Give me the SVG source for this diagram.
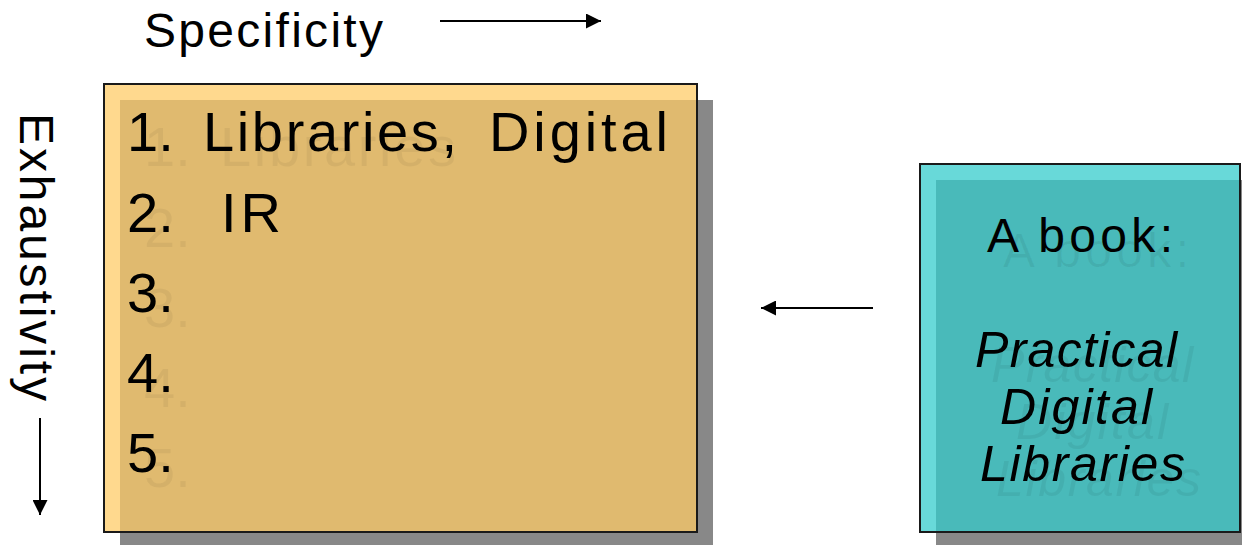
<svg xmlns="http://www.w3.org/2000/svg" width="1242" height="545" viewBox="0 0 1242 545">
<style>
  text { font-family: "Liberation Sans", Arial, sans-serif; fill: #000; }
  .list { font-size: 56px; }
  .ghost { fill: #000; fill-opacity: 0.05; }
  .ghost2 { fill: #000; fill-opacity: 0.06; }
  .book { font-size: 48px; }
  .ital { font-size: 50px; font-style: italic; }
  .axis { font-size: 48px; }
  .shadow { fill: #888888; }
  .frame { stroke: #1a1a1a; stroke-width: 2; }
  .conn { stroke: #000; stroke-width: 2; fill: none; }
</style>
<defs>
  <marker id="ah" viewBox="0 0 10 10" refX="10" refY="5" markerWidth="16" markerHeight="15" markerUnits="userSpaceOnUse" orient="auto">
    <path d="M0,0 L10,5 L0,10 z" fill="#000"/>
  </marker>
</defs>
<rect width="1242" height="545" fill="#fff"/>

<g id="specificity-label">
  <text class="axis" x="144" y="47" textLength="239" lengthAdjust="spacing">Specificity</text>
</g>
<g id="exhaustivity-label">
  <text class="axis" transform="translate(20,113) rotate(90)" x="0" y="0" textLength="288" lengthAdjust="spacing">Exhaustivity</text>
</g>

<g id="subject-list">
  <rect class="shadow" x="120" y="100" width="593" height="448"/>
  <rect class="frame" x="104" y="84" width="593" height="448" fill="#FFCC66" fill-opacity="0.74"/>
  <g class="list ghost">
    <text x="144" y="166">1.</text>
    <text x="220" y="166" textLength="236" lengthAdjust="spacing">Libraries</text>
    <text x="144" y="247">2.</text>
    <text x="144" y="327">3.</text>
    <text x="144" y="407">4.</text>
    <text x="144" y="487">5.</text>
  </g>
  <g class="list">
    <text x="127" y="151">1.</text>
    <text x="203" y="151" textLength="254" lengthAdjust="spacing">Libraries,</text>
    <text x="489" y="151" textLength="179" lengthAdjust="spacing">Digital</text>
    <text x="127" y="232">2.</text>
    <text x="221" y="232" textLength="60" lengthAdjust="spacing">IR</text>
    <text x="127" y="312">3.</text>
    <text x="127" y="392">4.</text>
    <text x="127" y="472">5.</text>
  </g>
</g>

<g id="book">
  <rect class="shadow" x="936" y="180" width="320" height="368"/>
  <rect class="frame" x="920" y="164" width="320" height="368" fill="#33CCCC" fill-opacity="0.74"/>
  <g class="ghost2">
    <text class="book" x="1003" y="267" textLength="186" lengthAdjust="spacing">A book:</text>
    <text class="ital" x="991" y="382" textLength="202" lengthAdjust="spacing">Practical</text>
    <text class="ital" x="1016" y="439" textLength="152" lengthAdjust="spacing">Digital</text>
    <text class="ital" x="996" y="496" textLength="205" lengthAdjust="spacing">Libraries</text>
  </g>
  <text class="book" x="987" y="252" textLength="186" lengthAdjust="spacing">A book:</text>
  <text class="ital" x="975" y="367" textLength="202" lengthAdjust="spacing">Practical</text>
  <text class="ital" x="1000" y="424" textLength="152" lengthAdjust="spacing">Digital</text>
  <text class="ital" x="980" y="481" textLength="205" lengthAdjust="spacing">Libraries</text>
</g>

<g id="connectors">
  <line class="conn" x1="440" y1="21" x2="601" y2="21" marker-end="url(#ah)"/>
  <line class="conn" x1="40" y1="418" x2="40" y2="515" marker-end="url(#ah)"/>
  <line class="conn" x1="873" y1="308" x2="761" y2="308" marker-end="url(#ah)"/>
</g>
</svg>
